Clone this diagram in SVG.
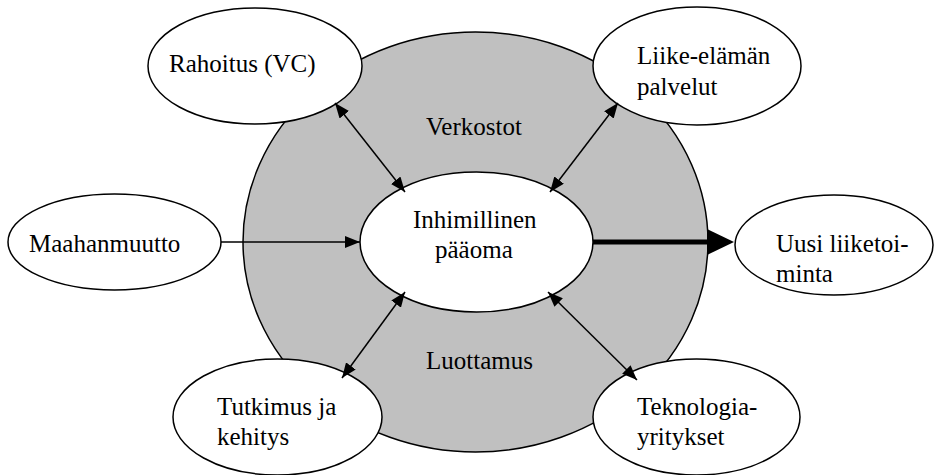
<svg xmlns="http://www.w3.org/2000/svg" width="934" height="475" viewBox="0 0 934 475">
  <style>
    .node { fill: #ffffff; stroke: #000000; stroke-width: 1.5; }
    .ring { fill: #c0c0c0; stroke: #000000; stroke-width: 1.5; }
    .lbl { font-family: "Liberation Serif", "Times New Roman", serif; font-size: 25px; fill: #000000; }
    .link { stroke: #000000; stroke-width: 1.5; fill: none; }
    .thick { stroke: #000000; stroke-width: 5; }
  </style>
  <defs>
    <marker id="tip" markerUnits="userSpaceOnUse" markerWidth="15" markerHeight="12" refX="15" refY="6" orient="auto-start-reverse" viewBox="0 0 15 12">
      <path d="M0,0 L15,6 L0,12 z" fill="#000000"/>
    </marker>
  </defs>

  <!-- surrounding ring: networks and trust -->
  <g id="ring">
    <ellipse class="ring" cx="475.5" cy="242" rx="232.5" ry="210"/>
    <text class="lbl" x="426" y="135">Verkostot</text>
    <text class="lbl" x="426" y="369">Luottamus</text>
  </g>

  <g id="inhimillinen">
    <ellipse class="node" cx="476.5" cy="242" rx="116.5" ry="70"/>
    <text class="lbl" x="413" y="228">Inhimillinen</text>
    <text class="lbl" x="435" y="258">pääoma</text>
  </g>

  <g id="rahoitus">
    <ellipse class="node" cx="255" cy="66" rx="107" ry="58"/>
    <text class="lbl" x="169" y="72">Rahoitus (VC)</text>
  </g>

  <g id="liike">
    <ellipse class="node" cx="697" cy="66" rx="104" ry="59"/>
    <text class="lbl" x="637" y="64">Liike-elämän</text>
    <text class="lbl" x="637" y="95">palvelut</text>
  </g>

  <g id="maahanmuutto">
    <ellipse class="node" cx="114.5" cy="242" rx="106.5" ry="48"/>
    <text class="lbl" x="29" y="252">Maahanmuutto</text>
  </g>

  <g id="uusi">
    <ellipse class="node" cx="834" cy="245" rx="99" ry="50"/>
    <text class="lbl" x="776" y="252">Uusi liiketoi-</text>
    <text class="lbl" x="776" y="282">minta</text>
  </g>

  <g id="tutkimus">
    <ellipse class="node" cx="277.5" cy="417" rx="104.5" ry="58"/>
    <text class="lbl" x="217" y="415">Tutkimus ja</text>
    <text class="lbl" x="217" y="445">kehitys</text>
  </g>

  <g id="teknologia">
    <ellipse class="node" cx="696.5" cy="417" rx="103.5" ry="58"/>
    <text class="lbl" x="637" y="415">Teknologia-</text>
    <text class="lbl" x="637" y="445">yritykset</text>
  </g>

  <!-- connectors -->
  <g id="connectors">
    <line class="link" x1="335" y1="103" x2="405" y2="192" marker-start="url(#tip)" marker-end="url(#tip)"/>
    <line class="link" x1="618" y1="103" x2="550" y2="192" marker-start="url(#tip)" marker-end="url(#tip)"/>
    <line class="link" x1="342" y1="378" x2="405" y2="292" marker-start="url(#tip)" marker-end="url(#tip)"/>
    <line class="link" x1="637" y1="380" x2="548" y2="292" marker-start="url(#tip)" marker-end="url(#tip)"/>
    <line class="link" x1="221" y1="242" x2="360" y2="242" marker-end="url(#tip)"/>
    <line class="thick" x1="593" y1="242" x2="710" y2="242"/>
    <polygon points="707,229 734,242 707,255" fill="#000000"/>
  </g>
</svg>
